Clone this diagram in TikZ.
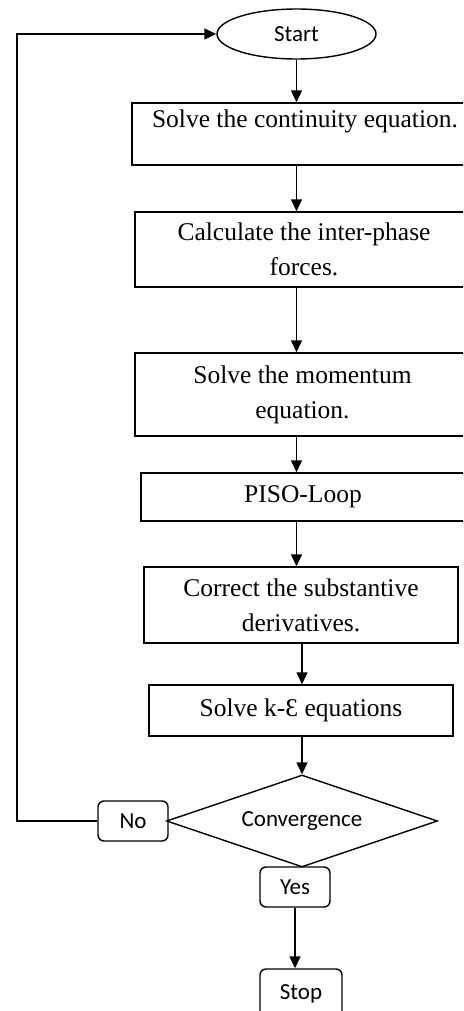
\documentclass[tikz,border=0pt]{standalone}
\usepackage{fontspec}
\setmainfont{Liberation Serif}
\newfontfamily\carlito{Carlito}
\usetikzlibrary{shapes.geometric,arrows.meta}
\begin{document}
\begin{tikzpicture}[x=1pt,y=-1pt,
  line width=1.4pt,
  stepbox/.style={draw, rectangle, align=center, inner sep=2pt,
    font=\fontsize{25.5}{35}\selectfont},
  term/.style={draw, ellipse, inner sep=0pt,
    font=\carlito\fontsize{23}{27}\selectfont},
  tag/.style={draw, rectangle, rounded corners=6pt, inner sep=0pt,
    font=\carlito\fontsize{23}{27}\selectfont},
  decision/.style={draw, diamond, shape aspect=3, inner sep=0pt,
    font=\carlito\fontsize{23}{27}\selectfont},
  arr/.style={-{Triangle[length=12pt,width=11pt]}},
]
\useasboundingbox (0,0) rectangle (463,1011);
\clip (0,0) rectangle (463,1011);

% terminal and process steps
\node[term, minimum width=159pt, minimum height=50pt] (start) at (296.5,34) {Start};
\node[stepbox, minimum width=346pt, minimum height=62pt, text height=18pt, text depth=30pt]
  (b1) at (305,134) {Solve the continuity equation.};
\node[stepbox, minimum width=338pt, minimum height=75pt]
  (b2) at (304,249.5) {Calculate the inter-phase\\forces.};
\node[stepbox, minimum width=335pt, minimum height=83pt]
  (b3) at (302.5,394.5) {Solve the momentum\\equation.};
\node[stepbox, minimum width=324pt, minimum height=48pt]
  (b4) at (303,497) {PISO-Loop};
\node[stepbox, minimum width=314pt, minimum height=76pt]
  (b5) at (301,605) {Correct the substantive\\derivatives.};
\node[stepbox, minimum width=304pt, minimum height=51pt]
  (b6) at (301,710.5) {Solve k-Ɛ equations};

% convergence test and its outcomes
\node[decision, minimum width=271pt, minimum height=92pt] (conv) at (302,821) {\raisebox{4pt}{Convergence}};
\node[tag, minimum width=70pt, minimum height=40pt] (no) at (133,821) {No};
\node[tag, minimum width=70pt, minimum height=40pt] (yes) at (295,887) {Yes};
\node[tag, minimum width=82pt, minimum height=50pt] (stop) at (301,994) {Stop};

% main flow
\draw[arr] (start.south) -- (start.south |- b1.north);
\draw[arr] (b1.south -| start.south) -- (b2.north -| start.south);
\draw[arr] (b2.south -| start.south) -- (b3.north -| start.south);
\draw[arr] (b3.south -| start.south) -- (b4.north -| start.south);
\draw[arr] (b4.south -| start.south) -- (b5.north -| start.south);
\draw[arr] (b5.south -| conv.north) -- (b6.north -| conv.north);
\draw[arr] (b6.south -| conv.north) -- (conv.north);
\draw[arr] (yes.south) -- (yes.south |- stop.north);

% loop back to the start
\coordinate (corner) at (17,821);
\draw[arr] (no.west) -- (corner) |- (start.west);
\end{tikzpicture}
\end{document}
